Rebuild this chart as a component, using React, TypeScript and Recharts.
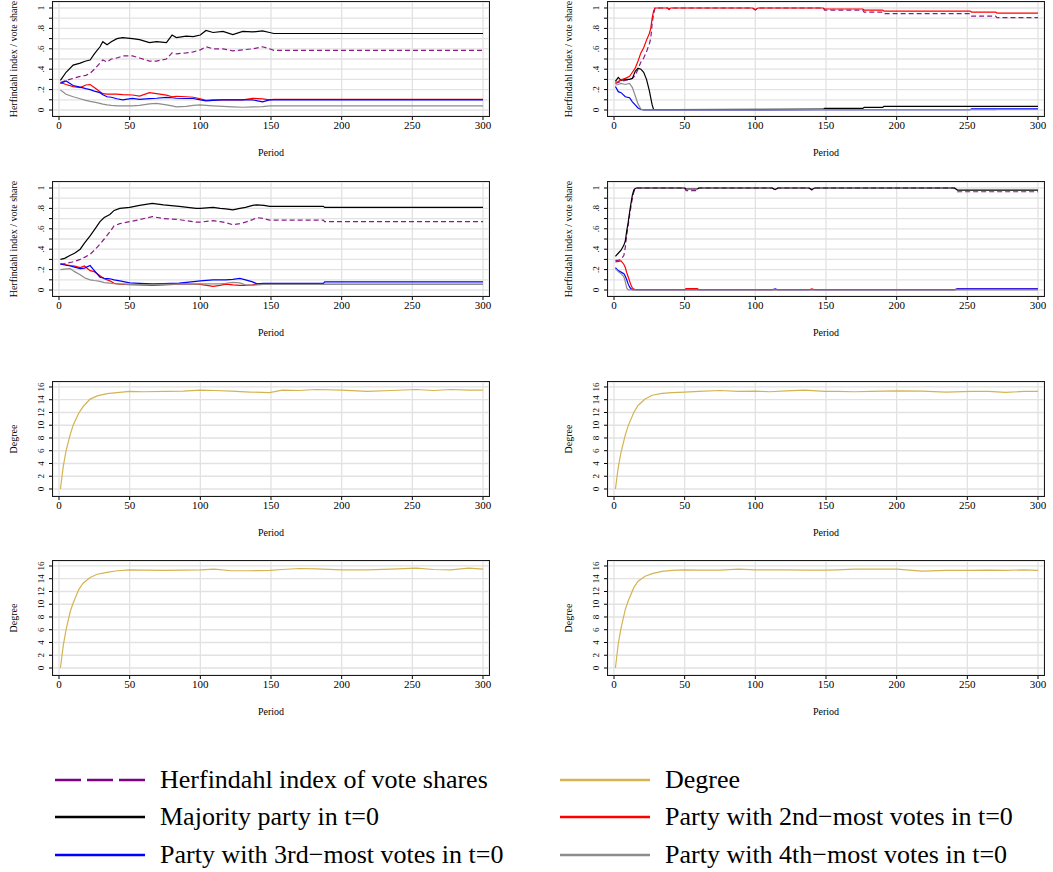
import React from "react";
import { LineChart, Line, XAxis, YAxis, CartesianGrid } from "recharts";

const FONT = "'Liberation Serif', 'Times New Roman', Times, serif";

const COLORS = {
  herf: "#8b1a89",
  maj: "#000000",
  second: "#ff0000",
  third: "#0000ff",
  fourth: "#8c8c8c",
  degree: "#d4b451",
};

// ---- vote share panels (periods + series) ----
const periodA = [1, 5, 10, 15, 19, 22, 25, 29, 31, 34, 37, 41, 45, 52, 57, 64, 69, 76, 80, 83, 90, 95, 100, 104, 109, 116, 123, 130, 137, 144, 149, 152, 300];
const herfA = [0.27, 0.29, 0.31, 0.33, 0.34, 0.36, 0.4, 0.46, 0.49, 0.47, 0.5, 0.51, 0.53, 0.53, 0.51, 0.48, 0.48, 0.5, 0.56, 0.55, 0.56, 0.57, 0.59, 0.62, 0.6, 0.6, 0.58, 0.59, 0.6, 0.62, 0.6, 0.585, 0.585];
const majA = [0.29, 0.37, 0.44, 0.46, 0.48, 0.49, 0.55, 0.62, 0.67, 0.64, 0.67, 0.7, 0.71, 0.7, 0.69, 0.66, 0.67, 0.66, 0.735, 0.71, 0.725, 0.72, 0.735, 0.78, 0.76, 0.77, 0.74, 0.77, 0.765, 0.775, 0.76, 0.75, 0.75];
const secondA = [0.27, 0.25, 0.23, 0.22, 0.245, 0.25, 0.22, 0.18, 0.16, 0.155, 0.157, 0.155, 0.15, 0.147, 0.137, 0.17, 0.16, 0.145, 0.13, 0.135, 0.13, 0.125, 0.11, 0.095, 0.1, 0.1, 0.1, 0.1, 0.115, 0.11, 0.1, 0.105, 0.105];
const thirdA = [0.26, 0.285, 0.24, 0.225, 0.21, 0.2, 0.185, 0.17, 0.15, 0.13, 0.125, 0.11, 0.1, 0.113, 0.105, 0.112, 0.115, 0.124, 0.12, 0.115, 0.113, 0.113, 0.1, 0.09, 0.095, 0.1, 0.1, 0.1, 0.1, 0.08, 0.1, 0.1, 0.1];
const fourthA = [0.195, 0.155, 0.13, 0.11, 0.095, 0.085, 0.078, 0.065, 0.058, 0.05, 0.045, 0.04, 0.04, 0.04, 0.045, 0.06, 0.065, 0.05, 0.04, 0.03, 0.035, 0.045, 0.05, 0.045, 0.04, 0.035, 0.03, 0.027, 0.03, 0.033, 0.04, 0.04, 0.04];

const periodB = [1, 3, 5, 8, 11, 13, 15, 17, 19, 21, 23, 25, 26, 27, 28, 29, 38, 39, 40, 98, 100, 102, 148, 149, 176, 177, 190, 191, 252, 253, 270, 271, 300];
const herfB = [0.26, 0.27, 0.28, 0.29, 0.3, 0.31, 0.34, 0.4, 0.47, 0.51, 0.57, 0.65, 0.7, 0.85, 0.94, 1.0, 1.0, 0.985, 1.0, 1.0, 0.98, 1.0, 1.0, 0.98, 0.98, 0.96, 0.96, 0.945, 0.945, 0.92, 0.92, 0.905, 0.905];
const majB = [0.28, 0.32, 0.29, 0.3, 0.3, 0.31, 0.38, 0.41, 0.4, 0.37, 0.3, 0.19, 0.12, 0.05, 0.005, 0.005, 0.005, 0.005, 0.005, 0.006, 0.006, 0.006, 0.008, 0.015, 0.015, 0.025, 0.025, 0.035, 0.035, 0.035, 0.035, 0.035, 0.035];
const secondB = [0.27, 0.28, 0.295, 0.31, 0.33, 0.37, 0.41, 0.48, 0.56, 0.61, 0.685, 0.75, 0.8, 0.9, 0.97, 1.0, 1.0, 0.99, 1.0, 1.0, 0.985, 1.0, 1.0, 0.99, 0.99, 0.98, 0.98, 0.97, 0.97, 0.96, 0.96, 0.95, 0.95];
const thirdB = [0.23, 0.18, 0.17, 0.13, 0.12, 0.08, 0.05, 0.02, 0.005, 0.002, 0.002, 0.002, 0.002, 0.002, 0.002, 0.002, 0.002, 0.002, 0.002, 0.002, 0.002, 0.002, 0.003, 0.003, 0.003, 0.003, 0.003, 0.003, 0.003, 0.012, 0.012, 0.012, 0.012];
const fourthB = [0.245, 0.25, 0.26, 0.25, 0.26, 0.22, 0.14, 0.06, 0.01, 0.002, 0.002, 0.002, 0.002, 0.002, 0.002, 0.002, 0.002, 0.002, 0.002, 0.002, 0.002, 0.002, 0.003, 0.003, 0.003, 0.003, 0.004, 0.004, 0.004, 0.004, 0.004, 0.005, 0.005];

const periodC = [1, 4, 8, 11, 15, 18, 22, 25, 29, 32, 36, 39, 43, 50, 57, 66, 74, 85, 97, 100, 109, 114, 118, 123, 128, 132, 137, 140, 145, 149, 152, 187, 188, 300];
const herfC = [0.255, 0.26, 0.27, 0.28, 0.3, 0.32, 0.35, 0.39, 0.45, 0.5, 0.57, 0.63, 0.65, 0.67, 0.69, 0.72, 0.7, 0.69, 0.665, 0.665, 0.68, 0.67, 0.66, 0.64, 0.65, 0.665, 0.69, 0.71, 0.7, 0.685, 0.685, 0.685, 0.67, 0.67];
const majC = [0.3, 0.31, 0.34, 0.36, 0.4, 0.46, 0.53, 0.59, 0.67, 0.71, 0.74, 0.78, 0.8, 0.81, 0.83, 0.85, 0.835, 0.82, 0.8, 0.8, 0.81, 0.8, 0.795, 0.785, 0.8, 0.81, 0.83, 0.835, 0.83, 0.82, 0.82, 0.82, 0.81, 0.81];
const secondC = [0.255, 0.25, 0.24, 0.235, 0.22, 0.235, 0.19, 0.18, 0.14, 0.11, 0.09, 0.065, 0.058, 0.052, 0.05, 0.045, 0.05, 0.058, 0.058, 0.055, 0.036, 0.045, 0.058, 0.05, 0.046, 0.045, 0.05, 0.058, 0.055, 0.055, 0.055, 0.055, 0.055, 0.055];
const thirdC = [0.255, 0.245, 0.235, 0.225, 0.21, 0.215, 0.24, 0.19, 0.125, 0.115, 0.11, 0.1, 0.09, 0.07, 0.065, 0.06, 0.062, 0.068, 0.085, 0.09, 0.1, 0.1, 0.1, 0.105, 0.113, 0.1, 0.08, 0.06, 0.065, 0.065, 0.065, 0.065, 0.08, 0.08];
const fourthC = [0.2, 0.205, 0.21, 0.18, 0.15, 0.12, 0.1, 0.093, 0.085, 0.072, 0.068, 0.062, 0.06, 0.055, 0.052, 0.052, 0.055, 0.058, 0.058, 0.06, 0.06, 0.06, 0.065, 0.075, 0.07, 0.05, 0.045, 0.05, 0.055, 0.055, 0.055, 0.055, 0.055, 0.055];

const periodD = [1, 3, 5, 7, 8, 9, 10, 11, 12, 13, 14, 15, 16, 50, 51, 59, 60, 112, 114, 116, 138, 140, 142, 241, 243, 300];
const herfD = [0.29, 0.29, 0.3, 0.34, 0.42, 0.54, 0.63, 0.73, 0.82, 0.9, 0.96, 0.99, 1.0, 1.0, 0.975, 0.975, 1.0, 1.0, 0.98, 1.0, 1.0, 0.98, 1.0, 1.0, 0.963, 0.963];
const majD = [0.33, 0.36, 0.39, 0.44, 0.48, 0.58, 0.66, 0.76, 0.85, 0.93, 0.98, 0.995, 1.0, 1.0, 0.99, 0.99, 1.0, 1.0, 0.985, 1.0, 1.0, 0.985, 1.0, 1.0, 0.98, 0.98];
const secondD = [0.275, 0.28, 0.285, 0.25, 0.22, 0.17, 0.13, 0.09, 0.05, 0.02, 0.008, 0.004, 0.003, 0.003, 0.014, 0.014, 0.003, 0.003, 0.003, 0.003, 0.003, 0.012, 0.003, 0.003, 0.01, 0.01];
const thirdD = [0.22, 0.19, 0.175, 0.16, 0.135, 0.1, 0.06, 0.03, 0.012, 0.004, 0.003, 0.003, 0.003, 0.003, 0.003, 0.003, 0.003, 0.003, 0.012, 0.003, 0.003, 0.003, 0.003, 0.003, 0.012, 0.012];
const fourthD = [0.21, 0.18, 0.16, 0.13, 0.08, 0.02, 0.002, 0.002, 0.002, 0.002, 0.002, 0.002, 0.002, 0.002, 0.002, 0.002, 0.002, 0.002, 0.002, 0.002, 0.002, 0.002, 0.002, 0.002, 0.002, 0.002];

// ---- degree panels ----
const periodDeg = [1, 3, 5, 8, 10, 14, 17, 22, 27, 34, 41, 50, 60, 75, 88, 100, 110, 122, 135, 149, 158, 170, 182, 200, 218, 235, 253, 265, 277, 290, 300];
const degreeE = [0, 3.5, 6.0, 8.6, 10.0, 11.9, 12.9, 14.1, 14.6, 14.95, 15.1, 15.3, 15.25, 15.3, 15.35, 15.5, 15.45, 15.35, 15.2, 15.1, 15.5, 15.45, 15.6, 15.5, 15.3, 15.45, 15.6, 15.45, 15.6, 15.5, 15.5];
const degreeF = [0, 3.4, 5.8, 8.5, 9.9, 12.0, 13.1, 14.1, 14.7, 15.0, 15.1, 15.2, 15.3, 15.45, 15.3, 15.35, 15.25, 15.4, 15.5, 15.3, 15.3, 15.25, 15.3, 15.4, 15.35, 15.2, 15.3, 15.3, 15.15, 15.3, 15.3];
const degreeG = [0, 3.5, 6.0, 8.9, 10.2, 12.3, 13.3, 14.2, 14.7, 15.0, 15.25, 15.4, 15.35, 15.3, 15.35, 15.4, 15.5, 15.25, 15.25, 15.3, 15.45, 15.6, 15.55, 15.4, 15.4, 15.5, 15.65, 15.45, 15.4, 15.65, 15.5];
const degreeH = [0, 3.8, 6.3, 9.2, 10.5, 12.6, 13.6, 14.4, 14.8, 15.15, 15.3, 15.4, 15.35, 15.35, 15.5, 15.4, 15.4, 15.4, 15.35, 15.35, 15.4, 15.5, 15.5, 15.5, 15.2, 15.3, 15.3, 15.35, 15.3, 15.4, 15.3];

const X_TICKS = [0, 50, 100, 150, 200, 250, 300];
const SHARE_TICKS = [0, 0.1, 0.2, 0.3, 0.4, 0.5, 0.6, 0.7, 0.8, 0.9, 1];
const DEGREE_TICKS = [0, 2, 4, 6, 8, 10, 12, 14, 16];

const LEGEND_ITEMS = [
  { label: "Herfindahl index of vote shares", color: "#800080", dashed: true },
  { label: "Degree", color: "#d4b451", dashed: false },
  { label: "Majority party in t=0", color: "#000000", dashed: false },
  { label: "Party with 2nd\u2212most votes in t=0", color: "#ff0000", dashed: false },
  { label: "Party with 3rd\u2212most votes in t=0", color: "#0000ff", dashed: false },
  { label: "Party with 4th\u2212most votes in t=0", color: "#8c8c8c", dashed: false },
];

const BOX_W = 436;
const BOX_H = 114;
const AXIS_W = 53;
const COL_LEFT = [53, 608];
const ROW_TOP = [2, 182, 382, 561];

function toRows(period: number[], series: Record<string, number[]>) {
  return period.map((p, i) => {
    const r: any = { period: p };
    for (const k of Object.keys(series)) r[k] = series[k][i];
    return r;
  });
}

const shareLabel = (v: number) => {
  const i = Math.round(v * 10);
  if (i % 2) return "";
  if (i === 0) return "0";
  if (i === 10) return "1";
  return "." + i;
};

const RotTick = (props: any) => {
  const { x, y, payload, fmt } = props;
  const label = fmt(payload.value);
  if (!label) return null;
  const bx = x - 3;
  return (
    <text
      x={bx}
      y={y}
      transform={`rotate(-90 ${bx} ${y})`}
      textAnchor="middle"
      fontSize={9}
      fontFamily={FONT}
      fill="#000"
    >
      {label}
    </text>
  );
};

function Title({ text, cx, cy, rotate }: { text: string; cx: number; cy: number; rotate?: boolean }) {
  return (
    <div
      style={{
        position: "absolute",
        left: cx,
        top: cy,
        transform: `translate(-50%, -50%)${rotate ? " rotate(-90deg)" : ""}`,
        fontFamily: FONT,
        fontSize: 10,
        whiteSpace: "nowrap",
        lineHeight: "12px",
      }}
    >
      {text}
    </div>
  );
}

const SHARE_LINES = [
  { key: "herf", color: COLORS.herf, dashed: true },
  { key: "maj", color: COLORS.maj, dashed: false },
  { key: "second", color: COLORS.second, dashed: false },
  { key: "third", color: COLORS.third, dashed: false },
  { key: "fourth", color: COLORS.fourth, dashed: false },
];

function Panel({ col, row, data, kind }: { col: number; row: number; data: any[]; kind: "share" | "degree" }) {
  const left = COL_LEFT[col];
  const top = ROW_TOP[row];
  const isShare = kind === "share";
  const lines = isShare ? SHARE_LINES : [{ key: "degree", color: COLORS.degree, dashed: false }];
  const yDomain = isShare ? [-0.0588, 1.0588] : [-1.1, 16.78];
  return (
    <>
      <div style={{ position: "absolute", left: left - AXIS_W, top }}>
        <LineChart width={AXIS_W + BOX_W + 10} height={BOX_H + 30} data={data} margin={{ top: 0, right: 10, bottom: 0, left: 0 }}>
          <CartesianGrid stroke="#e2e2e2" strokeWidth={1.3} />
          <XAxis
            dataKey="period"
            type="number"
            domain={[-4.25, 304.25]}
            ticks={X_TICKS}
            interval={0}
            allowDataOverflow
            height={30}
            axisLine={false}
            tickLine={{ stroke: "#000" }}
            tickSize={4}
            tickMargin={1}
            tick={{ fontSize: 11, fill: "#000", fontFamily: FONT }}
          />
          <YAxis
            type="number"
            domain={yDomain}
            ticks={isShare ? SHARE_TICKS : DEGREE_TICKS}
            interval={0}
            allowDataOverflow
            width={AXIS_W}
            axisLine={false}
            tickLine={{ stroke: "#000" }}
            tickSize={4}
            tickMargin={2}
            tick={<RotTick fmt={isShare ? shareLabel : (v: number) => String(v)} />}
          />
          {lines.map((l) => (
            <Line
              key={l.key}
              dataKey={l.key}
              type="linear"
              stroke={l.color}
              strokeWidth={1.2}
              strokeDasharray={l.dashed ? "5 3" : undefined}
              dot={false}
              activeDot={false}
              isAnimationActive={false}
            />
          ))}
        </LineChart>
      </div>
      <div
        style={{
          position: "absolute",
          left: left - 1,
          top: top - 1,
          width: BOX_W + 2,
          height: BOX_H + 2,
          border: "1.5px solid #1a1a1a",
          boxSizing: "border-box",
          pointerEvents: "none",
        }}
      />
      <Title text={isShare ? "Herfindahl index / vote share" : "Degree"} cx={left - 39} cy={top + BOX_H / 2} rotate />
      <Title text="Period" cx={left + BOX_W / 2} cy={top + BOX_H + 37} />
    </>
  );
}

export default function App() {
  const dataA = toRows(periodA, { herf: herfA, maj: majA, second: secondA, third: thirdA, fourth: fourthA });
  const dataB = toRows(periodB, { herf: herfB, maj: majB, second: secondB, third: thirdB, fourth: fourthB });
  const dataC = toRows(periodC, { herf: herfC, maj: majC, second: secondC, third: thirdC, fourth: fourthC });
  const dataD = toRows(periodD, { herf: herfD, maj: majD, second: secondD, third: thirdD, fourth: fourthD });
  const dataE = toRows(periodDeg, { degree: degreeE });
  const dataF = toRows(periodDeg, { degree: degreeF });
  const dataG = toRows(periodDeg, { degree: degreeG });
  const dataH = toRows(periodDeg, { degree: degreeH });

  const legendX = [55, 560];
  const legendY = [780, 817, 855];

  return (
    <div style={{ position: "absolute", left: 0, top: 0, width: 1053, height: 872, background: "#fff", fontFamily: FONT }}>
      <Panel col={0} row={0} data={dataA} kind="share" />
      <Panel col={1} row={0} data={dataB} kind="share" />
      <Panel col={0} row={1} data={dataC} kind="share" />
      <Panel col={1} row={1} data={dataD} kind="share" />
      <Panel col={0} row={2} data={dataE} kind="degree" />
      <Panel col={1} row={2} data={dataF} kind="degree" />
      <Panel col={0} row={3} data={dataG} kind="degree" />
      <Panel col={1} row={3} data={dataH} kind="degree" />

      {LEGEND_ITEMS.map((item, i) => {
        const x = legendX[i % 2];
        const y = legendY[Math.floor(i / 2)];
        return (
          <div key={item.label}>
            <svg style={{ position: "absolute", left: x, top: y - 3 }} width={90} height={6}>
              <line
                x1={0}
                y1={3}
                x2={90}
                y2={3}
                stroke={item.color}
                strokeWidth={2.5}
                strokeDasharray={item.dashed ? "26 6" : undefined}
              />
            </svg>
            <div
              style={{
                position: "absolute",
                left: x + 105,
                top: y - 15,
                fontSize: 26,
                lineHeight: "30px",
                whiteSpace: "nowrap",
                color: "#000",
              }}
            >
              {item.label}
            </div>
          </div>
        );
      })}
    </div>
  );
}
